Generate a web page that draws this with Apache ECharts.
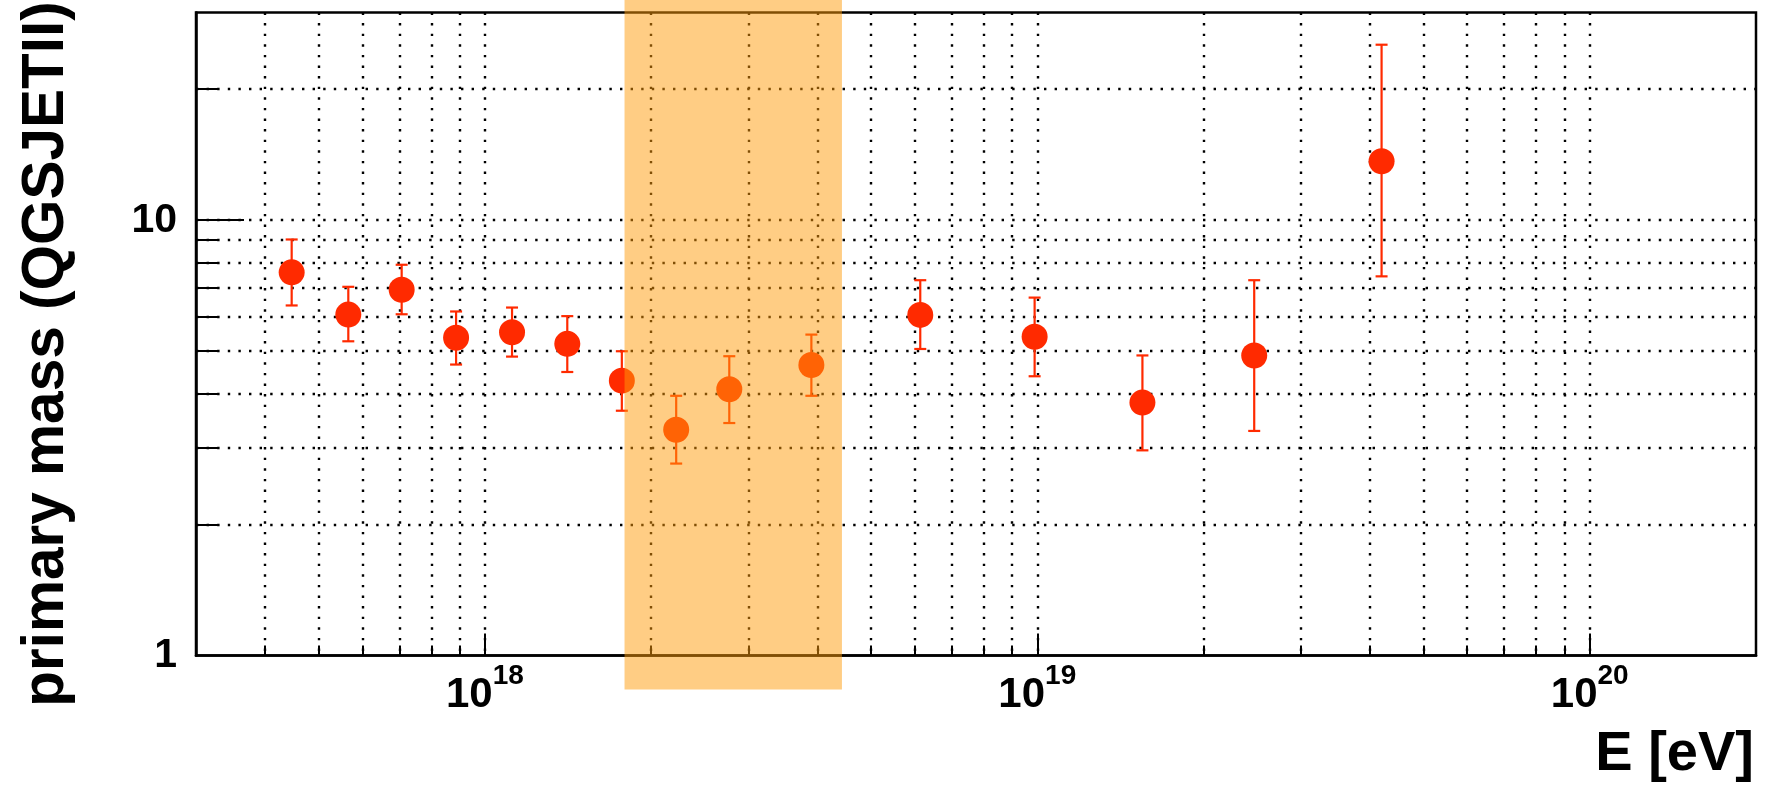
<!DOCTYPE html>
<html>
<head>
<meta charset="utf-8">
<script src="https://cdn.jsdelivr.net/npm/echarts@6/dist/echarts.min.js"></script>
<style>
  html, body { margin: 0; padding: 0; background: #ffffff; }
  #chart { width: 1774px; height: 785px; }
</style>
</head>
<body>
<div id="chart"></div>
<script>
// Energy bins [eV] and reconstructed primary mass with asymmetric error bars
const energy   = [4.47e17, 5.66e17, 7.07e17, 8.87e17, 1.12e18, 1.41e18, 1.77e18, 2.22e18, 2.77e18, 3.90e18, 6.14e18, 9.89e18, 1.55e19, 2.47e19, 4.20e19];
const mass     = [7.59, 6.07, 6.92, 5.37, 5.53, 5.20, 4.28, 3.30, 4.09, 4.65, 6.06, 5.40, 3.81, 4.89, 13.66];
const massLow  = [6.37, 5.27, 6.08, 4.66, 4.86, 4.48, 3.65, 2.76, 3.42, 3.95, 5.06, 4.38, 2.96, 3.28, 7.43];
const massHigh = [9.03, 7.03, 7.90, 6.17, 6.30, 6.02, 5.00, 3.95, 4.87, 5.46, 7.28, 6.64, 4.89, 7.28, 25.3];

// Highlighted energy window
const bandEnergy = [1.79e18, 4.43e18];
const bandMass   = [0.835, 40];

// Axis ranges and ticks
const xRange = [3e17, 2e20];
const yRange = [1, 30];
const xGridTicks = [4e17, 5e17, 6e17, 7e17, 8e17, 9e17,
                    1e18, 2e18, 3e18, 4e18, 5e18, 6e18, 7e18, 8e18, 9e18,
                    1e19, 2e19, 3e19, 4e19, 5e19, 6e19, 7e19, 8e19, 9e19,
                    1e20];
const xDecadeTicks = [1e18, 1e19, 1e20];
const yGridTicks = [2, 3, 4, 5, 6, 7, 8, 9, 10, 20];
const yMajorTicks = [10];
const yLabels = [1, 10];

const FONT = '"Liberation Sans", Arial, Helvetica, sans-serif';
const RED = '#ff2a00';

const chart = echarts.init(document.getElementById('chart'), null, { renderer: 'canvas' });

const dotted = { color: '#000', width: 2.4, type: [2.4, 8.2] };

chart.setOption({
  animation: false,
  backgroundColor: '#ffffff',
  grid: {
    left: 196, right: 18, top: 12.5, bottom: 129.5,
    containLabel: false,
    outerBoundsMode: 'none',
    show: true, borderColor: '#000', borderWidth: 2.5, backgroundColor: 'transparent'
  },
  xAxis: [
    {
      type: 'log', logBase: 10, min: xRange[0], max: xRange[1],
      position: 'bottom',
      axisLine: { show: true, onZero: false, lineStyle: { color: '#000', width: 2.5 } },
      axisTick: { show: true, inside: true, length: 10, customValues: xGridTicks, lineStyle: { color: '#000', width: 2 } },
      splitLine: { show: true, lineStyle: dotted },
      minorTick: { show: false }, minorSplitLine: { show: false },
      axisLabel: {
        customValues: xDecadeTicks,
        margin: 19,
        formatter: function (v) {
          return '{b|10}{s|' + Math.round(Math.log10(v)) + '}';
        },
        rich: {
          b: { fontFamily: FONT, fontWeight: 'bold', fontSize: 42, lineHeight: 42, color: '#000' },
          s: { fontFamily: FONT, fontWeight: 'bold', fontSize: 28, lineHeight: 28, padding: [0, 0, 38, 0], color: '#000' }
        }
      },
      name: 'E [eV]',
      nameLocation: 'end',
      nameGap: 0,
      nameMoveOverlap: false,
      nameTextStyle: {
        fontFamily: FONT, fontWeight: 'bold', fontSize: 56, color: '#000',
        align: 'right', verticalAlign: 'top', padding: [71, 2, 0, 0]
      }
    },
    {
      type: 'log', logBase: 10, min: xRange[0], max: xRange[1],
      position: 'bottom',
      axisLine: { show: false, onZero: false },
      axisTick: { show: true, inside: true, length: 22, customValues: xDecadeTicks, lineStyle: { color: '#000', width: 2 } },
      axisLabel: { show: false },
      splitLine: { show: false }
    }
  ],
  yAxis: [
    {
      type: 'log', logBase: 10, min: yRange[0], max: yRange[1],
      position: 'left',
      axisLine: { show: true, onZero: false, lineStyle: { color: '#000', width: 2.5 } },
      axisTick: { show: true, inside: true, length: 23, customValues: yGridTicks, lineStyle: { color: '#000', width: 2 } },
      splitLine: { show: true, lineStyle: dotted },
      minorTick: { show: false }, minorSplitLine: { show: false },
      axisLabel: {
        customValues: yLabels,
        margin: 19,
        fontFamily: FONT, fontWeight: 'bold', fontSize: 41, color: '#000',
        padding: [6, 0, 0, 0],
        formatter: function (v) { return String(v); }
      },
      name: 'primary mass (QGSJETII)',
      nameLocation: 'middle',
      nameGap: 120,
      nameMoveOverlap: false,
      nameTextStyle: {
        fontFamily: FONT, fontWeight: 'bold', fontSize: 58.5, color: '#000',
        padding: [0, 40, 0, 0]
      }
    },
    {
      type: 'log', logBase: 10, min: yRange[0], max: yRange[1],
      position: 'left',
      axisLine: { show: false, onZero: false },
      axisTick: { show: true, inside: true, length: 48, customValues: yMajorTicks, lineStyle: { color: '#000', width: 2 } },
      axisLabel: { show: false },
      splitLine: { show: false }
    }
  ],
  series: [
    {
      // vertical error bars with end caps
      type: 'custom',
      xAxisIndex: 0, yAxisIndex: 0,
      z: 3,
      silent: true,
      encode: { x: 0, y: [1, 2] },
      data: energy.map((e, i) => [e, massLow[i], massHigh[i]]),
      renderItem: function (params, api) {
        const lo = api.coord([api.value(0), api.value(1)]);
        const hi = api.coord([api.value(0), api.value(2)]);
        const hw = 6;
        const style = { stroke: RED, lineWidth: 2.2 };
        return {
          type: 'group',
          children: [
            { type: 'line', shape: { x1: lo[0], y1: lo[1], x2: hi[0], y2: hi[1] }, style: style },
            { type: 'line', shape: { x1: lo[0] - hw, y1: lo[1], x2: lo[0] + hw, y2: lo[1] }, style: style },
            { type: 'line', shape: { x1: hi[0] - hw, y1: hi[1], x2: hi[0] + hw, y2: hi[1] }, style: style }
          ]
        };
      }
    },
    {
      type: 'scatter',
      xAxisIndex: 0, yAxisIndex: 0,
      z: 4,
      silent: true,
      symbol: 'circle',
      symbolSize: 26,
      itemStyle: { color: RED, opacity: 1 },
      data: energy.map((e, i) => [e, mass[i]])
    },
    {
      // translucent energy window drawn over the data
      type: 'custom',
      xAxisIndex: 0, yAxisIndex: 0,
      z: 10,
      silent: true,
      clip: false,
      encode: { x: [0, 1], y: [2, 3] },
      data: [[bandEnergy[0], bandEnergy[1], bandMass[0], bandMass[1]]],
      renderItem: function (params, api) {
        const p0 = api.coord([api.value(0), api.value(2)]);
        const p1 = api.coord([api.value(1), api.value(3)]);
        return {
          type: 'rect',
          shape: { x: p0[0], y: p1[1], width: p1[0] - p0[0], height: p0[1] - p1[1] },
          style: { fill: 'rgba(255,155,10,0.5)' }
        };
      }
    }
  ]
});
</script>
</body>
</html>
